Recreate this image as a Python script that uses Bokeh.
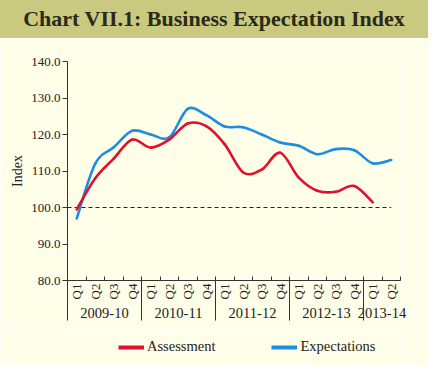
import math
import numpy as np
from bokeh.plotting import figure
from bokeh.models import (ColumnDataSource, FixedTicker, Legend, LegendItem, Div,
                          Range1d, NumeralTickFormatter, LinearAxis)
from bokeh.layouts import column
from bokeh.embed import file_html
from bokeh.resources import INLINE

# ---- data ----
years = ["2009-10", "2010-11", "2011-12", "2012-13", "2013-14"]
quarters_per_year = [4, 4, 4, 4, 2]
quarter_names = ["Q1", "Q2", "Q3", "Q4"]
assessment = [99.5, 108.0, 113.4, 118.6, 116.4, 118.6, 123.0, 122.3, 117.3,
              109.6, 110.4, 115.0, 108.2, 104.6, 104.3, 105.9, 101.4]
expectations = [97.0, 112.0, 116.5, 121.0, 120.0, 119.2, 127.0, 125.3, 122.2,
                122.0, 120.0, 117.8, 116.9, 114.6, 116.0, 115.7, 112.1, 113.0]
y_ticks = [80, 90, 100, 110, 120, 130, 140]
ref_level = 100

FONT = "Liberation Serif"
BG = "#fefee9"
RED = "#e2102e"
BLUE = "#1c8ee0"
INK = "#222222"
AX = "#333333"

quarter_labels = [quarter_names[q] for k in quarters_per_year for q in range(k)]
n = len(quarter_labels)
xc = np.arange(n) + 0.5
bounds = np.concatenate([[0], np.cumsum(quarters_per_year)])
year_centers = (bounds[:-1] + bounds[1:]) / 2.0


def key(v):
    v = float(v)
    return int(v) if v.is_integer() else v


def bezier_source(ys):
    ys = np.asarray(ys, dtype=float)
    xs = xc[:len(ys)]
    P = np.column_stack([xs, ys])
    m = len(P)
    Pm = np.vstack([P[0], P, P[-1]])
    keys = ["x0", "y0", "x1", "y1", "cx0", "cy0", "cx1", "cy1"]
    cols = {k: [] for k in keys}
    for i in range(m - 1):
        p_prev, p0, p1, p_next = Pm[i], Pm[i + 1], Pm[i + 2], Pm[i + 3]
        c0 = p0 + (p1 - p_prev) / 6.0
        c1 = p1 - (p_next - p0) / 6.0
        for k, v in zip(keys, [p0[0], p0[1], p1[0], p1[1], c0[0], c0[1], c1[0], c1[1]]):
            cols[k].append(float(v))
    return ColumnDataSource(cols)


def blank_axis(ticks, minor):
    ax = LinearAxis(ticker=FixedTicker(ticks=[float(t) for t in ticks],
                                       minor_ticks=[float(t) for t in minor]))
    ax.major_label_overrides = {key(t): "" for t in ticks}
    ax.major_label_text_font_size = "0px"
    ax.major_label_standoff = 0
    ax.axis_line_color = None
    ax.major_tick_line_color = None
    ax.major_tick_in = 0
    ax.major_tick_out = 0
    return ax


p = figure(width=428, height=294, output_backend="svg", toolbar_location=None,
           x_range=Range1d(0, n), y_range=Range1d(80, 140),
           min_border_left=67, min_border_right=28, min_border_top=23,
           min_border_bottom=52)
p.margin = (0, 0, 0, 0)
p.background_fill_color = BG
p.border_fill_color = BG
p.outline_line_color = None
p.xgrid.visible = False
p.ygrid.visible = False

# y axis
ya = p.yaxis[0]
ya.ticker = FixedTicker(ticks=y_ticks, minor_ticks=[])
ya.formatter = NumeralTickFormatter(format="0.0")
ya.major_tick_in = 0
ya.major_tick_out = 5
ya.axis_line_color = AX
ya.major_tick_line_color = AX
ya.major_label_text_font = FONT
ya.major_label_text_font_size = "13px"
ya.major_label_text_color = INK
ya.major_label_standoff = 2
ya.axis_label = "Index"
ya.axis_label_text_font = FONT
ya.axis_label_text_font_size = "14px"
ya.axis_label_text_font_style = "normal"
ya.axis_label_text_color = INK
ya.axis_label_standoff = 3

# x axis 1: axis line + quarter boundary ticks (pointing in)
xa = p.xaxis[0]
xa.ticker = FixedTicker(ticks=[float(i) for i in range(n + 1)], minor_ticks=[])
xa.major_tick_in = 4
xa.major_tick_out = 0
xa.axis_line_color = AX
xa.major_tick_line_color = AX
xa.major_label_text_font_size = "0px"
xa.major_label_standoff = 0
xa.major_label_overrides = {i: "" for i in range(n + 1)}

# x axis 2: quarter labels (reading upward)
qa = LinearAxis(ticker=FixedTicker(ticks=[float(v) for v in xc], minor_ticks=[]))
qa.major_label_overrides = {key(x): t for x, t in zip(xc, quarter_labels)}
qa.major_label_orientation = math.pi / 2
qa.axis_line_color = None
qa.major_tick_line_color = None
qa.major_tick_out = 0
qa.major_tick_in = 0
qa.major_label_standoff = 3
qa.major_label_text_font = FONT
qa.major_label_text_font_size = "13px"
qa.major_label_text_color = INK
p.add_layout(qa, "below")

# x axis 3: year labels
ya3 = LinearAxis(ticker=FixedTicker(ticks=[float(v) for v in year_centers], minor_ticks=[]))
ya3.major_label_overrides = {key(x): t for x, t in zip(year_centers, years)}
ya3.axis_line_color = None
ya3.major_tick_line_color = None
ya3.major_tick_out = 0
ya3.major_tick_in = 0
ya3.major_label_standoff = 5
ya3.major_label_text_font = FONT
ya3.major_label_text_font_size = "14.5px"
ya3.major_label_text_color = INK
p.add_layout(ya3, "below")

# x axis 4: year separators, drawn upward from below the year labels
sep = blank_axis([], bounds[:-1])
sep.minor_tick_line_color = AX
sep.minor_tick_in = 40
sep.minor_tick_out = 0
p.add_layout(sep, "below")

# reference line
p.line(x=[0, xc[-1]], y=[ref_level, ref_level], line_color=INK,
       line_width=1, line_dash="4 3")

# smooth series
for ys, col in [(expectations, BLUE), (assessment, RED)]:
    p.bezier(x0="x0", y0="y0", x1="x1", y1="y1", cx0="cx0", cy0="cy0", cx1="cx1",
             cy1="cy1", source=bezier_source(ys), line_color=col,
             line_width=2.6, line_cap="round")

# legend strip (its frame is aligned with the chart frame by the column layout)
lf = figure(width=428, height=33, output_backend="svg", toolbar_location=None,
            x_axis_type=None, y_axis_type=None, x_range=Range1d(0, 1),
            y_range=Range1d(0, 1), min_border_left=67, min_border_right=28,
            min_border_top=0, min_border_bottom=0)
lf.margin = (0, 0, 0, 0)
lf.background_fill_color = BG
lf.border_fill_color = BG
lf.outline_line_color = None
lf.xgrid.visible = False
lf.ygrid.visible = False
# series drawn off-frame here; they only give the legend its line styles
r_a = lf.line(x=xc[:len(assessment)], y=assessment, line_color=RED, line_width=4)
r_e = lf.line(x=xc, y=expectations, line_color=BLUE, line_width=4)
legend = Legend(items=[LegendItem(label="Assessment", renderers=[r_a]),
                       LegendItem(label="Expectations", renderers=[r_e])],
                orientation="horizontal", location=(51, 10),
                glyph_width=26, glyph_height=14, label_standoff=3, spacing=56,
                padding=0, margin=0, background_fill_alpha=0,
                border_line_color=None, label_text_font=FONT,
                label_text_font_size="14.5px", label_text_color=INK)
lf.add_layout(legend, "center")

header = Div(text="Chart VII.1: Business Expectation Index", width=428, height=38,
             margin=(0, 0, 0, 0),
             styles={"background-color": "#c9c97f", "color": "#2a2a18",
                     "font-family": FONT, "font-weight": "bold",
                     "font-size": "22px", "text-align": "center",
                     "line-height": "38px", "width": "428px", "height": "38px",
                     "box-sizing": "border-box", "padding": "0px"})

layout = column(header, p, lf, spacing=0)
open("out.html", "w").write(file_html(layout, INLINE))
